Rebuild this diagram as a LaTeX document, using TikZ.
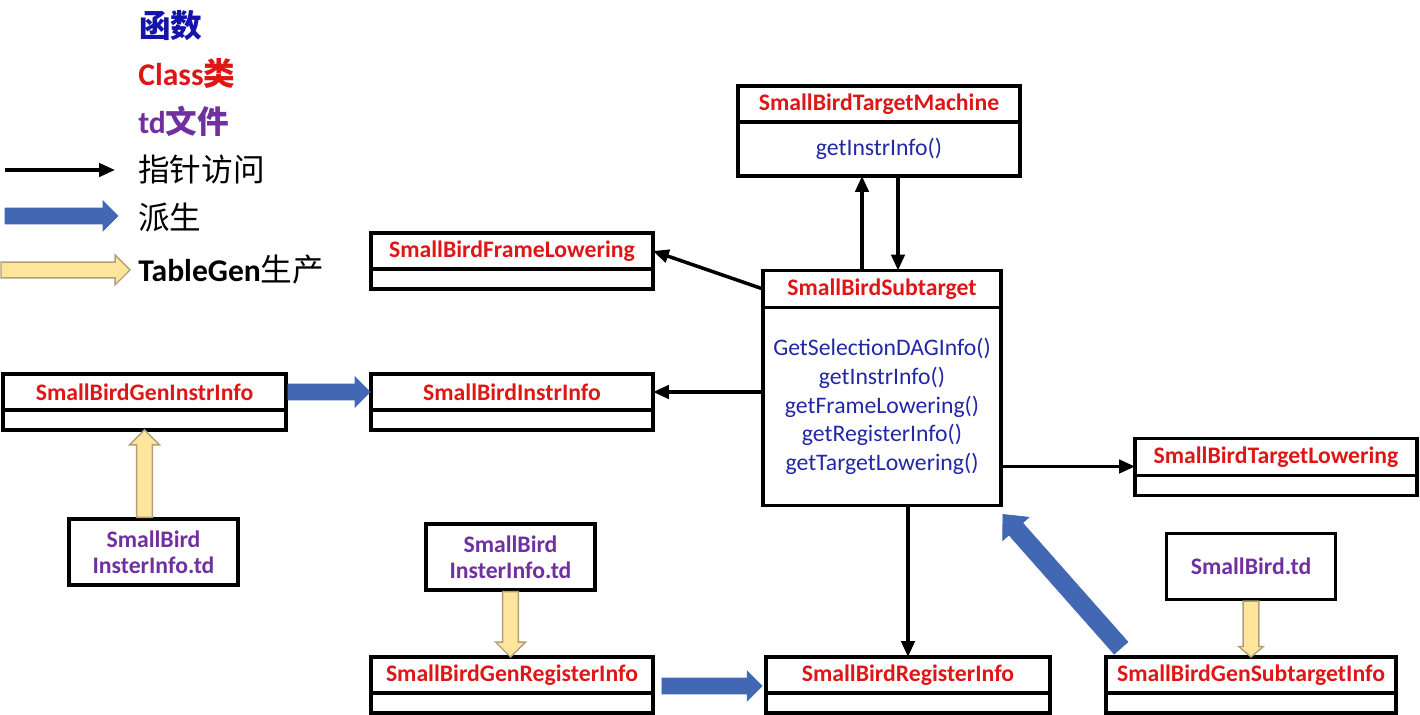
\documentclass[tikz,border=0pt]{standalone}
\usepackage{fontspec}
\setmainfont{Carlito}
\newfontfamily\cjk{Noto Sans CJK SC}
\usetikzlibrary{arrows.meta,calc,positioning}
\definecolor{clsred}{RGB}{222,22,22}
\definecolor{fnblue}{RGB}{32,40,165}
\definecolor{lgblue}{RGB}{20,20,170}
\definecolor{tdpurple}{RGB}{112,48,160}
\definecolor{derblue}{RGB}{66,104,180}
\definecolor{tgyellow}{RGB}{255,228,155}
\definecolor{tgedge}{RGB}{175,160,120}
\tikzset{
  shaftw/.store in=\shaftw, headw/.store in=\headw, headl/.store in=\headl,
  shaftw=4.5pt, headw=8.5pt, headl=8.5pt,
  fat/.style={to path={
    ($(\tikztostart)!\shaftw!90:(\tikztotarget)$)
    -- ($($(\tikztotarget)!\headl!(\tikztostart)$)!\shaftw!90:(\tikztotarget)$)
    -- ($($(\tikztotarget)!\headl!(\tikztostart)$)!\headw!90:(\tikztotarget)$)
    -- (\tikztotarget)
    -- ($($(\tikztotarget)!\headl!(\tikztostart)$)!\headw!-90:(\tikztotarget)$)
    -- ($($(\tikztotarget)!\headl!(\tikztostart)$)!\shaftw!-90:(\tikztotarget)$)
    -- ($(\tikztostart)!\shaftw!-90:(\tikztotarget)$) -- cycle}},
  derive/.style={fat, fill=derblue, draw=derblue, line width=0.4pt},
  tgen/.style={fat, fill=tgyellow, draw=tgedge, line width=0.8pt},
  ptr/.style={-{Triangle[length=9pt,width=7.5pt]}, line width=2pt},
  cls/.style={draw, line width=1.9pt, outer sep=0pt, minimum width=#1,
    minimum height=0.72cm, inner sep=1pt, text=clsred,
    font=\bfseries\fontsize{13.5}{16}\selectfont},
  cls/.default=5.64cm,
  body/.style={draw, line width=1.9pt, outer sep=0pt, minimum width=#1,
    minimum height=0.4cm, inner sep=1pt, text=fnblue, align=center,
    font=\fontsize{13.5}{16.4}\selectfont},
  body/.default=5.64cm,
  tdfile/.style={draw, line width=1.9pt, minimum width=3.38cm,
    minimum height=1.32cm, align=center, text=tdpurple,
    font=\bfseries\fontsize{13.5}{14.8}\selectfont},
  lgd/.style={anchor=west, inner sep=0pt, font=\fontsize{18}{20}\selectfont}
}
\begin{document}
\begin{tikzpicture}[x=0.02cm, y=-0.02cm]
  \useasboundingbox (0,0) rectangle (1420,715);

  % Legend
  \node[lgd, text=lgblue] (lfn) at (139,26) {\cjk\bfseries 函数};
  \node[lgd, text=clsred] (lcls) at (138,73) {\bfseries Class{\cjk 类}};
  \node[lgd, text=tdpurple] (ltd) at (138,121) {\bfseries td{\cjk 文件}};
  \node[lgd] (lptr) at (138,170) {\cjk 指针访问};
  \node[lgd] (lder) at (138,218) {\cjk 派生};
  \node[lgd] (lgen) at (138,270) {\bfseries TableGen\mdseries{\cjk 生产}};
  \coordinate (p1) at (5,170);
  \coordinate (p2) at (115,170);
  \coordinate (d1) at (5,216);
  \coordinate (d2) at (118,216);
  \coordinate (g1) at (1,270);
  \coordinate (g2) at (130,270);
  \draw[ptr] (p1) -- (p2);
  \draw[derive] (d1) to (d2);
  \draw[tgen] (g1) to (g2);

  % Classes
  \node[cls] (tm) at (879,104) {SmallBirdTargetMachine};
  \node[body, minimum height=1.08cm, below=0pt of tm] (tmb) {getInstrInfo()};

  \node[cls=4.76cm, minimum height=0.74cm] (st) at (882,289) {SmallBirdSubtarget};
  \node[body=4.76cm, minimum height=3.96cm, below=0pt of st] (stb)
    {GetSelectionDAGInfo()\\getInstrInfo()\\getFrameLowering()\\getRegisterInfo()\\getTargetLowering()};

  \node[cls] (fl) at (512,251) {SmallBirdFrameLowering};
  \node[body, below=0pt of fl] (flb) {};

  \node[cls] (ins) at (512,392) {SmallBirdInstrInfo};
  \node[body, below=0pt of ins] (insb) {};

  \node[cls=5.66cm] (gii) at (144.5,392) {SmallBirdGenInstrInfo};
  \node[body=5.66cm, below=0pt of gii] (giib) {};

  \node[cls, minimum height=0.74cm] (tl) at (1276,457) {SmallBirdTargetLowering};
  \node[body, below=0pt of tl] (tlb) {};

  \node[cls] (gri) at (512,675) {SmallBirdGenRegisterInfo};
  \node[body, below=0pt of gri] (grib) {};

  \node[cls=5.68cm] (ri) at (908,675) {SmallBirdRegisterInfo};
  \node[body=5.68cm, below=0pt of ri] (rib) {};

  \node[cls=5.8cm] (gsi) at (1251,675) {SmallBirdGenSubtargetInfo};
  \node[body=5.8cm, below=0pt of gsi] (gsib) {};

  % td files
  \node[tdfile] (td1) at (153.5,552) {SmallBird\\InsterInfo.td};
  \node[tdfile] (td2) at (510.5,557) {SmallBird\\InsterInfo.td};
  \node[tdfile] (td3) at (1251,566.5) {SmallBird.td};

  % pointer access
  \draw[ptr] ([xshift=-0.4cm]st.north) -- ([xshift=-0.4cm]st.north |- tmb.south);
  \draw[ptr] ([xshift=0.32cm]st.north |- tmb.south) -- ([xshift=0.32cm]st.north);
  \draw[ptr] (st.west) -- (fl.east);
  \draw[ptr] (stb.west |- ins.east) -- (ins.east);
  \coordinate (tlin) at ([yshift=-0.19cm]tl.west);
  \draw[ptr] (stb.east |- tlin) -- (tlin);
  \draw[ptr] (stb.south -| ri.north) -- (ri.north);

  % derivation
  \draw[derive] ([xshift=0.04cm]gii.east) to ([xshift=-0.02cm]ins.west);
  \draw[derive] ([shift={(0.18cm,-0.22cm)}]gri.east) to ([shift={(-0.08cm,-0.22cm)}]ri.west);
  \draw[derive, shaftw=5.2pt, headw=10pt, headl=11pt]
    ([shift={(0.3cm,0.18cm)}]gsi.north west) to ([shift={(0.04cm,-0.18cm)}]stb.south east);

  % TableGen
  \draw[tgen] (td1.north -| giib.south) to (giib.south);
  \draw[tgen] (td2.south) to (td2.south |- gri.north);
  \draw[tgen, headw=7pt, headl=6pt] (td3.south) to (gsi.north);
\end{tikzpicture}
\end{document}
